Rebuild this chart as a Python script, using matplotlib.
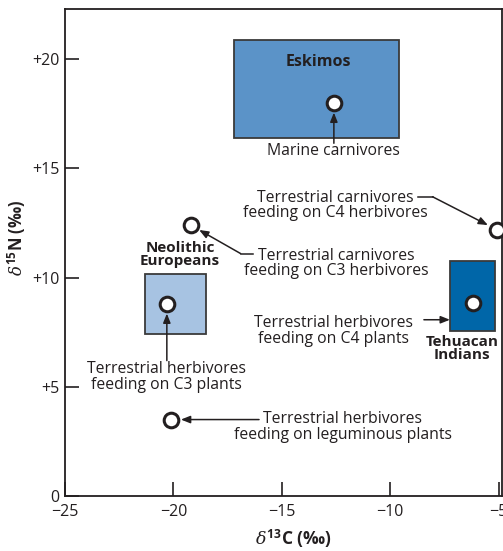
import matplotlib
matplotlib.use("Agg")
import matplotlib.pyplot as plt
from matplotlib.patches import Rectangle

plt.rcParams["font.family"] = ["Open Sans", "DejaVu Sans"]
plt.rcParams["mathtext.fontset"] = "custom"
plt.rcParams["mathtext.it"] = "DejaVu Serif:italic"
plt.rcParams["mathtext.rm"] = "Open Sans"
plt.rcParams["mathtext.bf"] = "Open Sans:bold"

ink = "#231f20"

# human populations: (x0, x1, y0, y1) ranges of d13C / d15N
groups = ["Eskimos", "Neolithic\nEuropeans", "Tehuacan\nIndians"]
group_c13 = [(-17.2, -9.6), (-21.3, -18.5), (-7.25, -5.15)]
group_n15 = [(16.4, 20.9), (7.4, 10.15), (7.55, 10.75)]
group_colors = ["#5b93c8", "#a7c3e2", "#0066a8"]

# food sources
foods = [
    "Marine carnivores",
    "Terrestrial carnivores\nfeeding on C4 herbivores",
    "Terrestrial carnivores\nfeeding on C3 herbivores",
    "Terrestrial herbivores\nfeeding on C3 plants",
    "Terrestrial herbivores\nfeeding on C4 plants",
    "Terrestrial herbivores\nfeeding on leguminous plants",
]
food_c13 = [-12.6, -5.1, -19.2, -20.3, -6.2, -20.1]
food_n15 = [18.0, 12.2, 12.4, 8.8, 8.85, 3.5]

fig = plt.figure(figsize=(5.03, 5.51), dpi=100)
ax = fig.add_axes([0.129, 0.0998, 0.869, 0.884])
ax.set_xlim(-25, -4.85)
ax.set_ylim(0, 22.3)

for name, (x0, x1), (y0, y1), c in zip(groups, group_c13, group_n15, group_colors):
    ax.add_patch(Rectangle((x0, y0), x1 - x0, y1 - y0, facecolor=c,
                           edgecolor="#3a3a3a", lw=1.3, zorder=2))

ax.text(-13.3, 19.85, groups[0], ha="center", va="center", fontsize=11.5,
        fontweight="bold", color=ink, zorder=3)
ax.text(-19.7, 11.05, groups[1], ha="center", va="center", fontsize=11,
        fontweight="bold", color=ink, linespacing=0.95, zorder=3)
ax.text(-6.7, 6.75, groups[2], ha="center", va="center", fontsize=11,
        fontweight="bold", color=ink, linespacing=0.95, zorder=3)

ax.plot(food_c13, food_n15, "o", ms=10.5, mfc="white", mec=ink, mew=2.2,
        zorder=5, clip_on=False)

label_xy = [(-12.6, 15.8), (-12.55, 13.3), (-12.5, 10.65),
            (-20.3, 5.45), (-12.6, 7.55), (-12.2, 3.15)]
for text, (tx, ty) in zip(foods, label_xy):
    ax.text(tx, ty, text, ha="center", va="center", fontsize=11.3,
            color=ink, linespacing=0.98, zorder=4)


def arrow(start, end, shrink=0):
    ax.annotate("", xy=end, xytext=start,
                arrowprops=dict(arrowstyle="-|>,head_length=0.55,head_width=0.22",
                                lw=1.1, color=ink, shrinkA=0, shrinkB=shrink),
                zorder=4)


arrow((food_c13[0], 16.15), (food_c13[0], food_n15[0]), shrink=7)
ax.plot([-8.7, -8.05], [13.7, 13.7], color=ink, lw=1.1, zorder=4)
arrow((-8.05, 13.7), (food_c13[1], food_n15[1]), shrink=7)
ax.plot([-16.35, -16.9], [11.1, 11.1], color=ink, lw=1.1, zorder=4)
arrow((-16.9, 11.1), (food_c13[2], food_n15[2]), shrink=7)
arrow((food_c13[3], 6.2), (food_c13[3], food_n15[3]), shrink=7)
arrow((-8.45, 8.07), (group_c13[2][0], 8.07))
arrow((-16.05, food_n15[5]), (food_c13[5], food_n15[5]), shrink=7)

ax.set_xticks([-25, -20, -15, -10, -5])
ax.set_xticklabels(["\u221225", "\u221220", "\u221215", "\u221210", "\u22125"])
ax.set_yticks([0, 5, 10, 15, 20])
ax.set_yticklabels(["0", "+5", "+10", "+15", "+20"])
ax.tick_params(direction="in", length=10, width=1.2, labelsize=11.5,
               colors=ink, pad=4)
ax.tick_params(axis="x", pad=6)
for s in ax.spines.values():
    s.set_linewidth(1.3)
    s.set_color(ink)

ax.set_xlabel(r"$\delta^{\mathbf{13}}$C (‰)", fontsize=12.5, fontweight="bold",
              color=ink)
ax.set_ylabel(r"$\delta^{\mathbf{15}}$N (‰)", fontsize=12, fontweight="bold",
              color=ink)
ax.xaxis.set_label_coords(0.523, -0.064)
ax.yaxis.set_label_coords(-0.085, 0.53)

fig.savefig("out.png", dpi=100)
